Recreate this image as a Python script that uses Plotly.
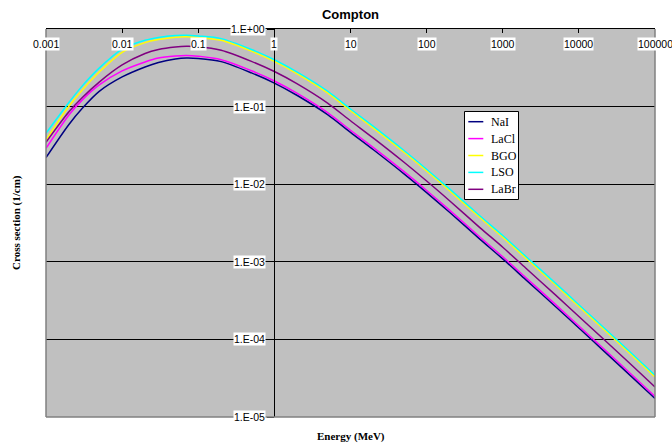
import plotly.graph_objects as go
import math

# ---------------- data ----------------
energy_mev = [0.001, 0.002, 0.003, 0.005, 0.01, 0.02, 0.03, 0.05, 0.07, 0.1, 0.2, 0.5,
              1, 2, 5, 10, 20, 50, 100, 200, 500, 1000, 2000, 5000, 10000, 20000, 50000, 100000]

nai = [0.0220, 0.0588, 0.095, 0.157, 0.241, 0.324, 0.370, 0.411, 0.423, 0.417, 0.380, 0.272,
       0.201, 0.139, 0.0788, 0.0466, 0.0278, 0.0137, 0.0078, 0.00435, 0.00196, 0.00109,
       0.00059, 0.000262, 0.000140, 0.0000750, 0.0000326, 0.0000173]
lacl = [0.029, 0.078, 0.122, 0.19, 0.288, 0.376, 0.423, 0.449, 0.456, 0.445, 0.402, 0.290,
        0.214, 0.148, 0.0839, 0.0496, 0.0296, 0.0146, 0.0083, 0.00463, 0.00209, 0.00116,
        0.000628, 0.000279, 0.000149, 0.0000799, 0.0000347, 0.0000184]
bgo = [0.0371, 0.101, 0.164, 0.279, 0.50, 0.668, 0.732, 0.784, 0.793, 0.773, 0.714, 0.518,
       0.382, 0.264, 0.150, 0.0885, 0.0528, 0.0260, 0.0148, 0.00827, 0.00372, 0.00207,
       0.00112, 0.000498, 0.000266, 0.0001425, 0.0000619, 0.0000329]
lso = [0.0453, 0.113, 0.185, 0.313, 0.55, 0.715, 0.777, 0.825, 0.833, 0.812, 0.752, 0.545,
       0.402, 0.278, 0.158, 0.0932, 0.0556, 0.0274, 0.0156, 0.0087, 0.00392, 0.00218,
       0.00118, 0.000524, 0.00028, 0.00015, 0.0000652, 0.0000346]
labr = [0.0347, 0.0857, 0.131, 0.207, 0.344, 0.483, 0.544, 0.586, 0.598, 0.591, 0.532, 0.383,
        0.283, 0.196, 0.111, 0.0657, 0.0392, 0.0193, 0.0110, 0.00613, 0.00276, 0.00154,
        0.000832, 0.000369, 0.000197, 0.000106, 0.000046, 0.0000244]

series_names = ["NaI", "LaCl", "BGO", "LSO", "LaBr"]
series_values = [nai, lacl, bgo, lso, labr]
series_colors = ["#000080", "#FF00FF", "#FFFF00", "#00FFFF", "#800080"]

x_tick_vals = [0.001, 0.01, 0.1, 1, 10, 100, 1000, 10000, 100000]
x_tick_text = ["0.001", "0.01", "0.1", "1", "10", "100", "1000", "10000", "100000"]
y_tick_vals = [1, 0.1, 0.01, 0.001, 0.0001, 0.00001]
y_tick_text = ["1.E+00", "1.E-01", "1.E-02", "1.E-03", "1.E-04", "1.E-05"]

title_text = "Compton"
x_title = "Energy (MeV)"
y_title = "Cross section (1/cm)"

# ---------------- figure ----------------
W, H = 672, 447
ML, MR, MT, MB = 46, 17, 29, 30
plot_w = W - ML - MR
plot_h = H - MT - MB


def px(xp):
    return (xp - ML) / plot_w


def py(yp):
    return (H - MB - yp) / plot_h


fig = go.Figure()
for name, vals, col in zip(series_names, series_values, series_colors):
    fig.add_trace(go.Scatter(
        x=energy_mev, y=vals, name=name, mode="lines",
        line=dict(color=col, width=1.5, shape="spline", smoothing=0.8),
        showlegend=False,
    ))

sans = "Liberation Sans, Arial, sans-serif"
serif = "Liberation Serif, Times New Roman, serif"
axis_font = dict(family=sans, size=10.5, color="black")

x_lo, x_hi = math.log10(x_tick_vals[0]), math.log10(x_tick_vals[-1])
y_lo, y_hi = math.log10(y_tick_vals[-1]), math.log10(y_tick_vals[0])
cross_frac = (0 - x_lo) / (x_hi - x_lo)  # y axis crosses at Energy = 1

fig.update_layout(
    width=W, height=H,
    margin=dict(l=ML, r=MR, t=MT, b=MB, pad=0),
    paper_bgcolor="white",
    plot_bgcolor="#C0C0C0",
    showlegend=False,
    title=dict(text="<b>%s</b>" % title_text, x=0.5, xref="paper", xanchor="center",
               y=1 - 14 / H, yref="container", yanchor="middle",
               font=dict(family=sans, size=13, color="black")),
    xaxis=dict(
        type="log", range=[x_lo, x_hi], side="top",
        showline=True, linecolor="black", linewidth=1,
        ticks="inside", ticklen=4, tickcolor="black", tickwidth=1,
        tickvals=x_tick_vals, showticklabels=False,
        showgrid=False, zeroline=False, fixedrange=True,
    ),
    yaxis=dict(
        type="log", range=[y_lo, y_hi],
        anchor="free", position=cross_frac,
        showline=True, linecolor="black", linewidth=1,
        ticks="outside", ticklen=7, tickcolor="black", tickwidth=1,
        tickvals=y_tick_vals, showticklabels=False,
        showgrid=True, gridcolor="black", gridwidth=1,
        zeroline=False, fixedrange=True,
    ),
)

# plot-area border (left, right, bottom) in grey
for x0, y0, x1, y1 in [(0, 0, 0, 1), (1, 0, 1, 1), (0, 0, 1, 0)]:
    fig.add_shape(type="line", xref="paper", yref="paper", x0=x0, y0=y0, x1=x1, y1=y1,
                  line=dict(color="#808080", width=1.5), layer="above")

# tick labels with white boxes
for v, t in zip(x_tick_vals, x_tick_text):
    fig.add_annotation(x=math.log10(v), y=1, xref="x", yref="paper", text=t,
                       showarrow=False, xanchor="center", yanchor="middle", yshift=-15,
                       bgcolor="white", borderpad=0, font=axis_font)
for v, t in zip(y_tick_vals, y_tick_text):
    fig.add_annotation(x=0, y=math.log10(v), xref="x", yref="y", text=t,
                       showarrow=False, xanchor="right", yanchor="middle", xshift=-8,
                       bgcolor="white", borderpad=0, font=axis_font)

# axis titles
fig.add_annotation(x=0.5, y=py(436.5), xref="paper", yref="paper",
                   text="<b>%s</b>" % x_title, showarrow=False,
                   xanchor="center", yanchor="middle",
                   font=dict(family=serif, size=11, color="black"))
fig.add_annotation(x=px(16), y=0.5, xref="paper", yref="paper",
                   text="<b>%s</b>" % y_title, showarrow=False, textangle=-90,
                   xanchor="center", yanchor="middle",
                   font=dict(family=serif, size=11, color="black"))

# legend box (Excel style)
leg_l, leg_r, leg_t, leg_b = 464.5, 518.5, 111.5, 199.5
fig.add_shape(type="rect", xref="paper", yref="paper",
              x0=px(leg_l), x1=px(leg_r), y0=py(leg_b), y1=py(leg_t),
              fillcolor="white", line=dict(color="black", width=1), layer="above")
item_y0, item_dy = 121.7, 16.9
for i, (name, col) in enumerate(zip(series_names, series_colors)):
    yy = item_y0 + i * item_dy
    fig.add_shape(type="line", xref="paper", yref="paper",
                  x0=px(468.3), x1=px(483.3), y0=py(yy), y1=py(yy),
                  line=dict(color=col, width=1.5), layer="above")
    fig.add_annotation(x=px(489), y=py(yy), xref="paper", yref="paper", text=name,
                       showarrow=False, xanchor="left", yanchor="middle",
                       font=dict(family=serif, size=12, color="black"))

fig.write_html("out.html")
